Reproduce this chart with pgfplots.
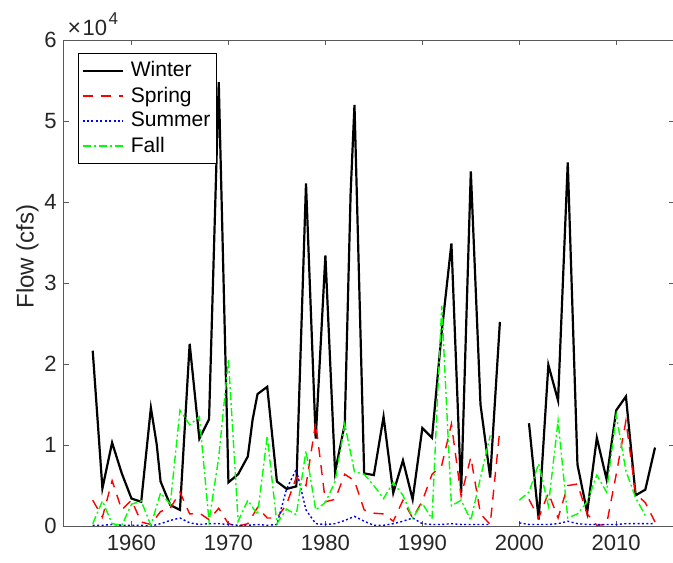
\documentclass[border=0pt]{standalone}
\usepackage{pgfplots}
\pgfplotsset{compat=1.18}
\usepackage{fontspec}
\setmainfont{Liberation Sans}
\usetikzlibrary{calc}
\definecolor{axgray}{rgb}{0.35,0.35,0.35}
\definecolor{txgray}{rgb}{0.15,0.15,0.15}
\begin{document}
\begin{tikzpicture}
\begin{axis}[
  scale only axis,
  width=304.75pt, height=242.5pt,
  xmin=1953, xmax=2016, ymin=0, ymax=60000,
  xtick={1960,1970,1980,1990,2000,2010},
  ytick={0,10000,20000,30000,40000,50000,60000},
  yticklabels={0,1,2,3,4,5,6},
  scaled y ticks=false,
  /pgf/number format/1000 sep={},
  /pgf/number format/assume math mode=true,
  tick align=inside,
  major tick length=2.5pt,
  tick style={axgray, line width=0.4pt},
  axis line style={axgray, line width=0.5pt},
  ticklabel style={font=\fontsize{11}{13}\selectfont, text=txgray},
  xticklabel style={yshift=-1pt},
  ylabel={Flow (cfs)},
  ylabel style={at={(ticklabel cs:0.555)}, font=\fontsize{12}{14}\selectfont, text=txgray, yshift=-4pt},
  unbounded coords=jump,
  legend cell align=left,
  legend style={at={(0,1)}, anchor=north west, xshift=7.25pt, yshift=-6.5pt,
    font=\fontsize{10.5}{12.5}\selectfont, line width=0.4pt,
    inner xsep=1.5pt, inner ysep=2.5pt, row sep=0.5pt,
    nodes={inner sep=1.5pt},
    /tikz/every odd column/.append style={column sep=2pt}},
  legend image code/.code={\draw[mark repeat=2,mark phase=2,#1] plot coordinates {(0pt,0pt) (10pt,0pt) (20pt,0pt)};},
]
\addplot[black, line width=1.1pt] coordinates {
(1956,21650) (1957,4660) (1958,10300) (1959,6500) (1960,3400) (1961,3000)
(1962,14600) (1962.6,10100) (1963,5500) (1964,2600) (1965,2000) (1966,22500)
(1967,10800) (1968,13200) (1969,54800) (1970,5400) (1971,6400) (1972,8600)
(1972.5,13200) (1973,16300) (1974,17200) (1975,5500) (1976,4600) (1977,4900)
(1978,42300) (1979,10800) (1980,33400) (1981,6700) (1982,12600) (1982.6,41000)
(1983,52000) (1984,6500) (1985,6300) (1986,13500) (1987,4100) (1988,8100)
(1989,3300) (1990,12100) (1991,10900) (1992,24000) (1993,34900) (1994,4100)
(1995,43800) (1996,15000) (1997,6000) (1998,25200) (1999,nan)
(2001,12700) (2002,800) (2003,19900) (2004,15500) (2005,44900) (2006,7600)
(2007,1700) (2008,10900) (2009,5800) (2010,14300) (2011,16000) (2012,3800)
(2013,4500) (2014,9700)
};
\addlegendentry{Winter}
\addplot[color=red, line width=0.7pt, dash pattern=on 5pt off 4pt] coordinates {
(1956,3200) (1957,1100) (1958,5600) (1959,2000) (1960,3200) (1961,500)
(1962,200) (1963,1800) (1964,2200) (1965,4200) (1966,1500) (1967,1600)
(1968,800) (1969,2200) (1970,300) (1971,0) (1972,300) (1973,2300)
(1974,1000) (1975,1000) (1976,2700) (1977,6000) (1978,5000) (1979,12800)
(1980,3000) (1981,3300) (1982,6400) (1983,5600) (1984,2000) (1985,1600)
(1986,1500) (1987,600) (1988,3200) (1989,1000) (1990,3100) (1991,6400)
(1992,7500) (1993,12600) (1994,3700) (1995,8500) (1996,1500) (1997,200)
(1998,12000) (1999,nan)
(2001,3300) (2002,1000) (2003,4100) (2004,1000) (2005,5000) (2006,5200)
(2007,1500) (2008,100) (2009,200) (2010,6400) (2011,13000) (2012,4000)
(2013,2900) (2014,500)
};
\addlegendentry{Spring}
\addplot[color=blue, line width=0.7pt, dash pattern=on 1pt off 1.2pt] coordinates {
(1956,100) (1957,100) (1958,200) (1959,100) (1960,100) (1961,100)
(1962,0) (1963,300) (1964,700) (1965,1000) (1966,400) (1967,200)
(1968,300) (1969,300) (1970,200) (1971,100) (1972,100) (1973,200)
(1974,100) (1975,200) (1976,4600) (1977,7000) (1978,2000) (1979,300)
(1980,200) (1981,300) (1982,700) (1983,1200) (1984,600) (1985,100)
(1986,100) (1987,300) (1988,600) (1989,1000) (1990,300) (1991,200)
(1992,200) (1993,300) (1994,200) (1995,200) (1996,200) (1997,200)
(1998,nan)
(2000,400) (2001,200) (2002,200) (2003,200) (2004,300) (2005,600)
(2006,300) (2007,200) (2008,200) (2009,200) (2010,200) (2011,300)
(2012,300) (2013,300) (2014,300)
};
\addlegendentry{Summer}
\addplot[color=green, line width=0.7pt, dash pattern=on 4pt off 1.5pt on 1pt off 1.5pt] coordinates {
(1956,300) (1957,3100) (1958,300) (1959,100) (1960,2700) (1961,3100)
(1962,100) (1963,4100) (1964,2700) (1965,14300) (1966,12500) (1967,13500)
(1968,600) (1969,8500) (1970,20600) (1971,600) (1972,3200) (1973,1400)
(1974,11100) (1975,300) (1976,2100) (1977,1400) (1978,9300) (1979,2000)
(1980,2900) (1981,5500) (1982,12600) (1983,6700) (1984,6400) (1985,5000)
(1986,3400) (1987,5400) (1988,3800) (1989,1000) (1990,2800) (1991,900)
(1992,27200) (1993,2500) (1994,3200) (1995,700) (1996,6000) (1997,11200)
(1998,nan)
(2000,3200) (2001,4200) (2002,7700) (2003,2500) (2004,13000) (2005,1000)
(2006,1500) (2007,3000) (2008,6300) (2009,4200) (2010,13700) (2011,6800)
(2012,3500) (2013,1300)
};
\addlegendentry{Fall}
\end{axis}
\node[anchor=base west, inner sep=0pt, text=txgray]
  at ($(current axis.north west)+(1.75pt,2.5pt)$) {{\fontsize{11.5}{13}\selectfont ×}\hspace{0.8pt}{\fontsize{11}{13}\selectfont 10}\hspace{0.8pt}\raisebox{5.5pt}{\fontsize{8.5}{10}\selectfont 4}};
\pgfresetboundingbox
\path ($(current axis.south west)+(-31.75pt,-18pt)$) rectangle ($(current axis.north east)+(-0.7pt,20pt)$);
\end{tikzpicture}
\end{document}
